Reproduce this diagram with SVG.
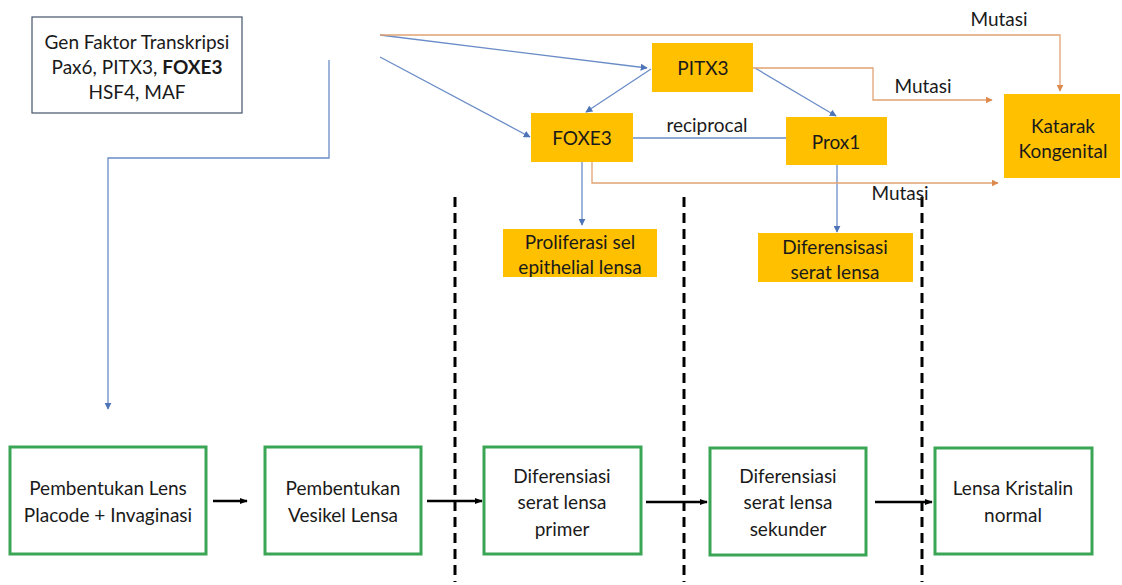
<svg xmlns="http://www.w3.org/2000/svg" width="1122" height="585" viewBox="0 0 1122 585">
  <style>
    text { font-family: Lato, "Open Sans", "Liberation Sans", sans-serif; font-size: 19px; fill: #1a1a1a; text-anchor: middle; }
    .gold { fill: #FFC000; }
    .stage { fill: #ffffff; stroke: #3aa655; stroke-width: 3; }
    .blue { fill: none; stroke: #6a8cc7; stroke-width: 1.3; }
    .orange { fill: none; stroke: #e0a273; stroke-width: 1.3; }
    .flow { fill: none; stroke: #000000; stroke-width: 2.5; }
    .divider { fill: none; stroke: #000000; stroke-width: 3; stroke-dasharray: 10 6; }
  </style>
  <defs>
    <marker id="tipBlue" viewBox="0 0 10 10" refX="9" refY="5" markerWidth="7" markerHeight="7" markerUnits="userSpaceOnUse" orient="auto">
      <path d="M0,0 L10,5 L0,10 z" fill="#4e74b8"/>
    </marker>
    <marker id="tipOrange" viewBox="0 0 10 10" refX="9" refY="5" markerWidth="7" markerHeight="7" markerUnits="userSpaceOnUse" orient="auto">
      <path d="M0,0 L10,5 L0,10 z" fill="#dd8a4f"/>
    </marker>
    <marker id="tipBlack" viewBox="0 0 10 10" refX="9" refY="5" markerWidth="8" markerHeight="8" markerUnits="userSpaceOnUse" orient="auto">
      <path d="M0,1 L10,5 L0,9 z" fill="#000000"/>
    </marker>
  </defs>

  <rect width="1122" height="585" fill="#ffffff"/>

  <!-- stage dividers -->
  <g id="dividers">
    <line class="divider" x1="455" y1="197" x2="455" y2="582"/>
    <line class="divider" x1="684" y1="197" x2="684" y2="582"/>
    <line class="divider" x1="922" y1="197" x2="922" y2="582"/>
  </g>

  <g id="connectors">
    <!-- gene box to lens placode -->
    <path class="blue" d="M329,60 V158 H108 V409" marker-end="url(#tipBlue)"/>
    <!-- gene regulation -->
    <line class="blue" x1="380" y1="35" x2="647" y2="68" marker-end="url(#tipBlue)"/>
    <line class="blue" x1="380" y1="57" x2="530" y2="137" marker-end="url(#tipBlue)"/>
    <line class="blue" x1="651" y1="69" x2="586" y2="112" marker-end="url(#tipBlue)"/>
    <line class="blue" x1="755" y1="68" x2="836" y2="116" marker-end="url(#tipBlue)"/>
    <line class="blue" x1="633" y1="138" x2="786" y2="138"/>
    <line class="blue" x1="582" y1="162" x2="582" y2="225" marker-end="url(#tipBlue)"/>
    <line class="blue" x1="837" y1="165" x2="837" y2="232" marker-end="url(#tipBlue)"/>
    <!-- mutations -->
    <path class="orange" d="M380,35 H1060 V91" marker-end="url(#tipOrange)"/>
    <path class="orange" d="M753,68 H873 V100 H992" marker-end="url(#tipOrange)"/>
    <path class="orange" d="M592,162 V183 H998" marker-end="url(#tipOrange)"/>
    <!-- developmental sequence -->
    <line class="flow" x1="213" y1="501" x2="247" y2="501" marker-end="url(#tipBlack)"/>
    <line class="flow" x1="427" y1="501" x2="482" y2="501" marker-end="url(#tipBlack)"/>
    <line class="flow" x1="646" y1="502" x2="707" y2="502" marker-end="url(#tipBlack)"/>
    <line class="flow" x1="875" y1="502" x2="932" y2="502" marker-end="url(#tipBlack)"/>
  </g>

  <g id="labels">
    <text x="707" y="132">reciprocal</text>
    <text x="999" y="26">Mutasi</text>
    <text x="923" y="93">Mutasi</text>
    <text x="900" y="200">Mutasi</text>
  </g>

  <g id="gen-faktor">
    <rect x="32" y="17" width="210" height="96" fill="#ffffff" stroke="#44546a" stroke-width="1.2"/>
    <text x="137" y="49">Gen Faktor Transkripsi</text>
    <text x="137" y="74">Pax6, PITX3, <tspan font-weight="bold">FOXE3</tspan></text>
    <text x="137" y="99">HSF4, MAF</text>
  </g>

  <g id="pitx3">
    <rect class="gold" x="652" y="43" width="101" height="49"/>
    <text x="703" y="75">PITX3</text>
  </g>

  <g id="foxe3">
    <rect class="gold" x="531" y="113" width="102" height="49"/>
    <text x="582" y="145">FOXE3</text>
  </g>

  <g id="prox1">
    <rect class="gold" x="786" y="117" width="101" height="48"/>
    <text x="836" y="149">Prox1</text>
  </g>

  <g id="katarak">
    <rect class="gold" x="1004" y="94" width="116" height="84"/>
    <text x="1063" y="133">Katarak</text>
    <text x="1063" y="158">Kongenital</text>
  </g>

  <g id="proliferasi">
    <rect class="gold" x="503" y="229" width="154" height="48"/>
    <text x="580" y="249">Proliferasi sel</text>
    <text x="580" y="274">epithelial lensa</text>
  </g>

  <g id="diferensisasi">
    <rect class="gold" x="758" y="233" width="155" height="49"/>
    <text x="835" y="254">Diferensisasi</text>
    <text x="835" y="279">serat lensa</text>
  </g>

  <g id="lens-placode">
    <rect class="stage" x="10" y="447" width="196" height="107"/>
    <text x="108" y="495">Pembentukan Lens</text>
    <text x="108" y="522">Placode + Invaginasi</text>
  </g>

  <g id="vesikel">
    <rect class="stage" x="265" y="447" width="156" height="107"/>
    <text x="343" y="495">Pembentukan</text>
    <text x="343" y="522">Vesikel Lensa</text>
  </g>

  <g id="serat-primer">
    <rect class="stage" x="484" y="447" width="157" height="107"/>
    <text x="562" y="483">Diferensiasi</text>
    <text x="562" y="509">serat lensa</text>
    <text x="562" y="536">primer</text>
  </g>

  <g id="serat-sekunder">
    <rect class="stage" x="710" y="448" width="156" height="107"/>
    <text x="788" y="483">Diferensiasi</text>
    <text x="788" y="509">serat lensa</text>
    <text x="788" y="536">sekunder</text>
  </g>

  <g id="lensa-kristalin">
    <rect class="stage" x="935" y="448" width="157" height="106"/>
    <text x="1013" y="495">Lensa Kristalin</text>
    <text x="1013" y="522">normal</text>
  </g>
</svg>
